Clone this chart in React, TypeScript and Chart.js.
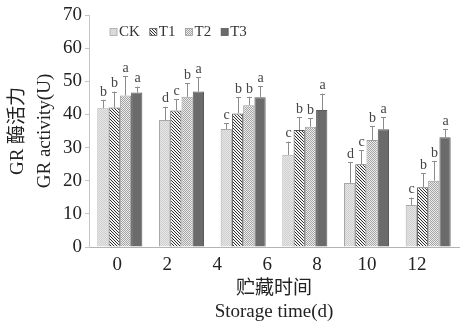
import { useEffect, useRef } from 'react';
import { Chart, registerables } from 'chart.js';

Chart.register(...registerables);

const groups = ['G1', 'G2', 'G3', 'G4', 'G5', 'G6'];
const tickValues = [0, 2, 4, 6, 8, 10, 12];
const tickLabels = ['0', '2', '4', '6', '8', '10', '12'];
const seriesNames = ['CK', 'T1', 'T2', 'T3'];

const ckValues = [41.9, 38.3, 35.6, 27.8, 19.3, 12.7];
const t1Values = [42.1, 41.2, 40.3, 35.3, 25.0, 18.0];
const t2Values = [45.7, 45.3, 42.8, 36.3, 32.3, 20.0];
const t3Values = [46.6, 46.9, 45.2, 41.3, 35.5, 33.1];

const ckErrors = [2.5, 4.0, 1.8, 4.0, 6.3, 2.2];
const t1Errors = [4.8, 3.4, 5.0, 3.8, 4.2, 4.3];
const t2Errors = [5.9, 4.1, 2.5, 2.5, 4.2, 5.8];
const t3Errors = [1.8, 4.3, 3.4, 5.0, 3.6, 2.4];

const ckLetters = ['b', 'd', 'c', 'c', 'd', 'c'];
const t1Letters = ['b', 'c', 'b', 'b', 'c', 'b'];
const t2Letters = ['a', 'b', 'b', 'b', 'b', 'b'];
const t3Letters = ['a', 'a', 'a', 'a', 'a', 'a'];

const SERIF = '"Liberation Serif", "Times New Roman", "Noto Sans CJK SC", serif';

function makePattern(size: number, base: string, dark: string, cells: [number, number][]) {
  const c = document.createElement('canvas');
  c.width = size;
  c.height = size;
  const g = c.getContext('2d')!;
  g.fillStyle = base;
  g.fillRect(0, 0, size, size);
  g.fillStyle = dark;
  cells.forEach(([x, y]) => g.fillRect(x, y, 1, 1));
  return g.createPattern(c, 'repeat')!;
}

export default function App() {
  const ref = useRef<HTMLCanvasElement>(null);

  useEffect(() => {
    if (!ref.current) return;
    const ckFill = makePattern(2, '#e6e6e6', '#cfcfcf', [[0, 0], [1, 1]]);
    const t1Fill = makePattern(3, '#f4f4f4', '#2e2e2e', [[0, 0], [1, 1], [2, 2]]);
    const t2Fill = makePattern(2, '#ececec', '#a4a4a4', [[0, 0], [1, 1]]);
    const fills = [ckFill, t1Fill, t2Fill, '#6b6b6b'];
    const borders = ['#a8a8a8', '#555555', '#9a9a9a', '#5a5a5a'];
    const values = [ckValues, t1Values, t2Values, t3Values];
    const errors = [ckErrors, t1Errors, t2Errors, t3Errors];
    const letters = [ckLetters, t1Letters, t2Letters, t3Letters];

    const errorPlugin = {
      id: 'errorBars',
      afterDatasetsDraw(chart: any) {
        const ctx = chart.ctx;
        const yScale = chart.scales.y;
        ctx.save();
        chart.data.datasets.forEach((ds: any, i: number) => {
          const meta = chart.getDatasetMeta(i);
          meta.data.forEach((bar: any, j: number) => {
            const v = ds.data[j];
            const yTop = yScale.getPixelForValue(v + errors[i][j]);
            const x = Math.round(bar.x) + 0.5;
            ctx.strokeStyle = '#8c8c8c';
            ctx.lineWidth = 1;
            ctx.beginPath();
            ctx.moveTo(x, bar.y);
            ctx.lineTo(x, yTop);
            ctx.moveTo(x - 2.5, Math.round(yTop) + 0.5);
            ctx.lineTo(x + 2.5, Math.round(yTop) + 0.5);
            ctx.stroke();
            ctx.fillStyle = '#444';
            ctx.font = '14px ' + SERIF;
            ctx.textAlign = 'center';
            ctx.textBaseline = 'bottom';
            ctx.fillText(letters[i][j], x, yTop - 1);
          });
        });
        ctx.restore();
      },
    };

    const legendPlugin = {
      id: 'insideLegend',
      afterDraw(chart: any) {
        const ctx = chart.ctx;
        const { left, top } = chart.chartArea;
        ctx.save();
        ctx.font = '15px ' + SERIF;
        ctx.textBaseline = 'middle';
        ctx.textAlign = 'left';
        let x = left + 21;
        const y = top + 17;
        chart.data.datasets.forEach((ds: any) => {
          ctx.fillStyle = ds.backgroundColor;
          ctx.fillRect(x, y - 3.5, 7, 7);
          ctx.strokeStyle = ds.borderColor;
          ctx.lineWidth = 0.8;
          ctx.strokeRect(x, y - 3.5, 7, 7);
          x += 9;
          ctx.fillStyle = '#333';
          ctx.fillText(ds.label, x, y + 0.5);
          x += ctx.measureText(ds.label).width + 10;
        });
        ctx.restore();
      },
    };

    const chart = new Chart(ref.current, {
      type: 'bar',
      data: {
        labels: groups,
        datasets: seriesNames.map((name, i) => ({
          label: name,
          data: values[i],
          backgroundColor: fills[i] as any,
          borderColor: borders[i],
          borderWidth: 1,
          categoryPercentage: 0.73,
          barPercentage: 1,
          xAxisID: 'x',
          yAxisID: 'y',
        })),
      },
      options: {
        responsive: false,
        animation: false,
        layout: { padding: { top: 15, right: 1, left: 0, bottom: 0 } },
        plugins: {
          legend: { display: false },
          tooltip: { enabled: false },
        },
        scales: {
          x: {
            type: 'category',
            display: false,
            offset: true,
          },
          x2: {
            type: 'linear',
            position: 'bottom',
            offset: false,
            min: -1.13,
            max: 13.68,
            grid: { display: false, drawTicks: false, offset: false },
            border: { display: true, color: '#b4b4b4' },
            afterBuildTicks: (scale: any) => {
              scale.ticks = tickValues.map((value) => ({ value }));
            },
            afterFit: (scale: any) => {
              scale.height = 76;
            },
            ticks: {
              padding: 7,
              color: '#222',
              font: { family: SERIF, size: 19 },
              callback: (v: any) => tickLabels[tickValues.indexOf(Number(v))] ?? '',
            },
            title: {
              display: true,
              text: ['贮藏时间', 'Storage time(d)'],
              color: '#222',
              font: { family: SERIF, size: 19, lineHeight: 23 / 19 },
              padding: { top: 0, bottom: -1 },
            },
          },
          y: {
            min: 0,
            max: 70,
            grid: {
              drawOnChartArea: false,
              drawTicks: true,
              tickLength: 4,
              color: '#c4c4c4',
            },
            border: { display: true, color: '#c4c4c4' },
            afterFit: (scale: any) => {
              scale.width = 89;
            },
            ticks: {
              stepSize: 10,
              padding: 3,
              color: '#222',
              font: { family: SERIF, size: 19 },
            },
            title: {
              display: true,
              text: ['GR 酶活力', 'GR activity(U)'],
              color: '#222',
              font: { family: SERIF, size: 19, lineHeight: 27 / 19 },
              padding: { top: 4.5, bottom: 0 },
            },
          },
        },
      },
      plugins: [errorPlugin, legendPlugin],
    });
    return () => chart.destroy();
  }, []);

  return (
    <div style={{ position: 'absolute', left: 0, top: 0, width: 460, height: 323, background: '#fff' }}>
      <canvas ref={ref} width={460} height={323} style={{ display: 'block' }} />
    </div>
  );
}
